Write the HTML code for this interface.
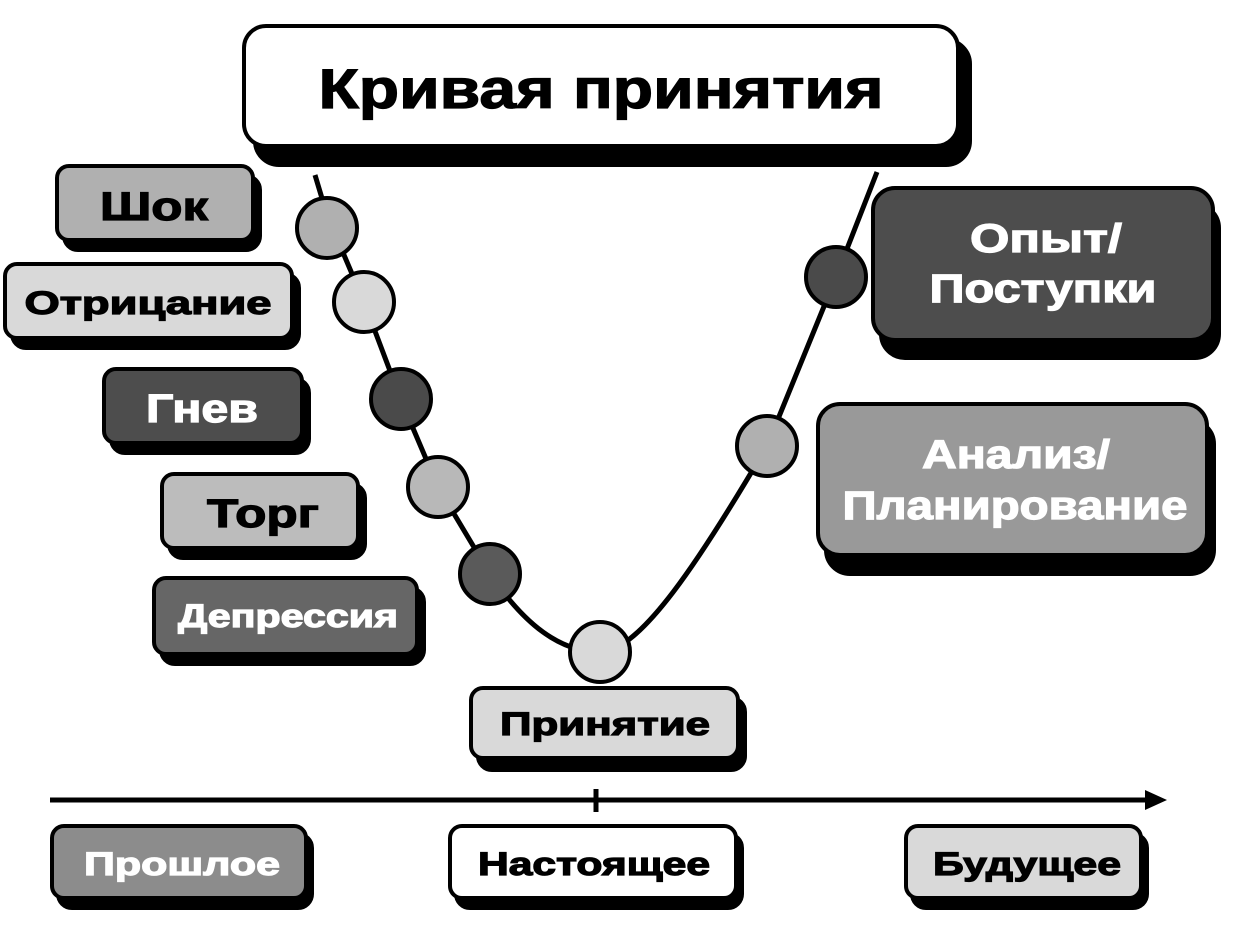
<!DOCTYPE html>
<html><head><meta charset="utf-8"><style>
html,body{margin:0;padding:0;background:#fff;}
svg{display:block}
text{font-family:"Liberation Sans",sans-serif;font-weight:bold;text-anchor:middle;stroke-width:1.2;}
</style></head><body>
<svg width="1248" height="927" viewBox="0 0 1248 927" xmlns="http://www.w3.org/2000/svg">
<!-- curve -->
<path d="M315,175 L327,215 L364,302 L401,400 L438,487 L490,574 C525,625 560,652 600,652 C640,652 700,560 767,446 L836,277 L877,172" fill="none" stroke="#000" stroke-width="5" stroke-linejoin="round"/>
<!-- axis -->
<line x1="50" y1="800" x2="1148" y2="800" stroke="#000" stroke-width="5"/>
<polygon points="1145,790 1167,800 1145,810" fill="#000"/>
<line x1="596" y1="789" x2="596" y2="812" stroke="#000" stroke-width="5"/>

<g stroke="#000" stroke-width="4">
<rect x="255" y="40" width="715" height="125" rx="24" fill="#000"/>
<rect x="244" y="26" width="714" height="120" rx="22" fill="#fff"/>
<rect x="64" y="176" width="196" height="74" rx="14" fill="#000"/>
<rect x="57" y="166" width="196" height="74" rx="12" fill="#b0b0b0"/>
<rect x="12" y="274" width="287" height="74" rx="14" fill="#000"/>
<rect x="5" y="264" width="287" height="74" rx="12" fill="#d9d9d9"/>
<rect x="111" y="379" width="198" height="74" rx="14" fill="#000"/>
<rect x="104" y="369" width="198" height="74" rx="12" fill="#4d4d4d"/>
<rect x="169" y="484" width="196" height="74" rx="14" fill="#000"/>
<rect x="162" y="474" width="196" height="74" rx="12" fill="#bcbcbc"/>
<rect x="161" y="588" width="263" height="76" rx="14" fill="#000"/>
<rect x="154" y="578" width="263" height="76" rx="12" fill="#666"/>
<rect x="478" y="698" width="267" height="72" rx="14" fill="#000"/>
<rect x="471" y="688" width="267" height="70" rx="12" fill="#d9d9d9"/>
<rect x="881" y="204" width="338" height="154" rx="24" fill="#000"/>
<rect x="873" y="188" width="340" height="152" rx="22" fill="#4d4d4d"/>
<rect x="826" y="420" width="388" height="154" rx="24" fill="#000"/>
<rect x="818" y="404" width="389" height="151" rx="22" fill="#999"/>
<rect x="58" y="834" width="254" height="74" rx="14" fill="#000"/>
<rect x="52" y="826" width="254" height="72" rx="12" fill="#8c8c8c"/>
<rect x="456" y="834" width="286" height="74" rx="14" fill="#000"/>
<rect x="450" y="826" width="286" height="72" rx="12" fill="#fff"/>
<rect x="912" y="834" width="235" height="74" rx="14" fill="#000"/>
<rect x="906" y="826" width="235" height="72" rx="12" fill="#d9d9d9"/>
<circle cx="327" cy="228" r="30" fill="#b0b0b0"/>
<circle cx="364" cy="302" r="30" fill="#d9d9d9"/>
<circle cx="401" cy="399" r="30" fill="#4a4a4a"/>
<circle cx="438" cy="487" r="30" fill="#b8b8b8"/>
<circle cx="490" cy="574" r="30" fill="#5a5a5a"/>
<circle cx="600" cy="652" r="30" fill="#d9d9d9"/>
<circle cx="767" cy="446" r="30" fill="#b0b0b0"/>
<circle cx="836" cy="277" r="30" fill="#4a4a4a"/>
</g>

<text x="601" y="108" font-size="56" stroke="#000" textLength="565" lengthAdjust="spacingAndGlyphs">Кривая принятия</text>
<text x="154" y="220" font-size="40" stroke="#000" textLength="108" lengthAdjust="spacingAndGlyphs">Шок</text>
<text x="148" y="314" font-size="32" stroke="#000" textLength="247" lengthAdjust="spacingAndGlyphs">Отрицание</text>
<text x="202" y="422" font-size="40" fill="#fff" stroke="#fff" textLength="112" lengthAdjust="spacingAndGlyphs">Гнев</text>
<text x="263" y="527" font-size="40" stroke="#000" textLength="112" lengthAdjust="spacingAndGlyphs">Торг</text>
<text x="288" y="627" font-size="32" fill="#fff" stroke="#fff" textLength="220" lengthAdjust="spacingAndGlyphs">Депрессия</text>
<text x="605" y="735" font-size="32" stroke="#000" textLength="210" lengthAdjust="spacingAndGlyphs">Принятие</text>
<text x="1046" y="252" font-size="40" fill="#fff" stroke="#fff" textLength="152" lengthAdjust="spacingAndGlyphs">Опыт/</text>
<text x="1043" y="302" font-size="40" fill="#fff" stroke="#fff" textLength="227" lengthAdjust="spacingAndGlyphs">Поступки</text>
<text x="1016" y="468" font-size="40" fill="#fff" stroke="#fff" textLength="188" lengthAdjust="spacingAndGlyphs">Анализ/</text>
<text x="1015" y="519" font-size="40" fill="#fff" stroke="#fff" textLength="345" lengthAdjust="spacingAndGlyphs">Планирование</text>
<text x="182" y="875" font-size="32" fill="#fff" stroke="#fff" textLength="196" lengthAdjust="spacingAndGlyphs">Прошлое</text>
<text x="594" y="875" font-size="32" stroke="#000" textLength="232" lengthAdjust="spacingAndGlyphs">Настоящее</text>
<text x="1027" y="875" font-size="32" stroke="#000" textLength="188" lengthAdjust="spacingAndGlyphs">Будущее</text>
</svg>
</body></html>
